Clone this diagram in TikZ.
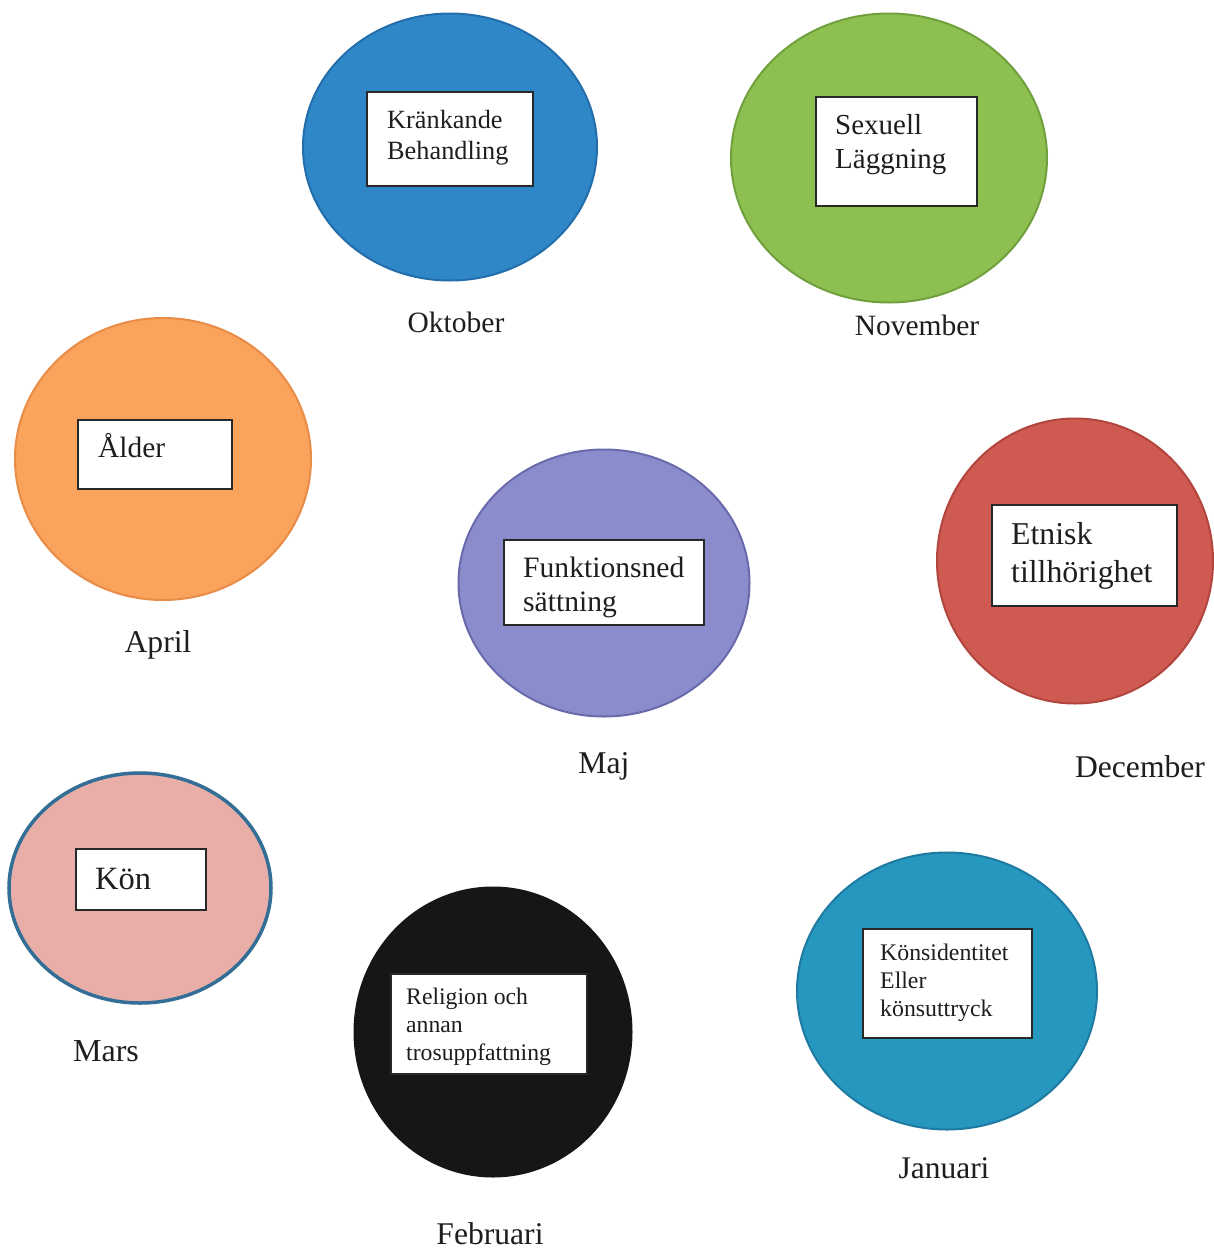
\documentclass[tikz,border=0pt]{standalone}
\usepackage{fontspec}
\setmainfont{Liberation Serif}
\usetikzlibrary{shapes.geometric}
\definecolor{cblue}{RGB}{47,135,200}
\definecolor{cbluebd}{RGB}{35,110,170}
\definecolor{cgreen}{RGB}{141,192,80}
\definecolor{cgreenbd}{RGB}{112,160,62}
\definecolor{corange}{RGB}{250,163,92}
\definecolor{corangebd}{RGB}{232,140,72}
\definecolor{cpurple}{RGB}{138,140,204}
\definecolor{cpurplebd}{RGB}{104,106,172}
\definecolor{cred}{RGB}{207,90,82}
\definecolor{credbd}{RGB}{178,70,62}
\definecolor{cpink}{RGB}{233,174,168}
\definecolor{cpinkbd}{RGB}{50,110,150}
\definecolor{cblack}{RGB}{22,22,22}
\definecolor{cteal}{RGB}{38,152,192}
\definecolor{ctealbd}{RGB}{30,122,160}
\definecolor{boxbd}{RGB}{40,40,40}
\definecolor{txt}{RGB}{30,30,30}
\tikzset{
  blob/.style={ellipse, inner sep=0pt, line width=2pt},
  labelbox/.style={rectangle, fill=white, draw=boxbd, line width=1.5pt, inner sep=0pt, anchor=north west},
  boxtext/.style={anchor=base west, inner sep=0pt, align=left, text=txt},
  month/.style={anchor=base, inner sep=0pt, text=txt},
}
\newcommand{\fsz}[2]{\fontsize{#1}{#2}\selectfont}
\begin{document}
\begin{tikzpicture}[x=1pt,y=-1pt]
\useasboundingbox[fill=white] (0,0) rectangle (1214,1250);

% Oktober
\node[blob, fill=cblue, draw=cbluebd, minimum width=294pt, minimum height=267pt] (c1) at (450,147) {};
\node[labelbox, minimum width=166pt, minimum height=94pt] (b1) at (366,91) {};
\node[boxtext, font=\fsz{26.3}{31}] (t1) at (387,159) {Kränkande\\Behandling};
\node[month, font=\fsz{29.5}{32}] (m1) at (456,332) {Oktober};

% November
\node[blob, fill=cgreen, draw=cgreenbd, minimum width=316pt, minimum height=289pt] (c2) at (889,158) {};
\node[labelbox, minimum width=161pt, minimum height=109pt] (b2) at (815,96) {};
\node[boxtext, font=\fsz{29}{34}] (t2) at (835,168) {Sexuell\\Läggning};
\node[month, font=\fsz{29.5}{32}] (m2) at (917,335) {November};

% April
\node[blob, fill=corange, draw=corangebd, minimum width=296pt, minimum height=282pt] (c3) at (163,459) {};
\node[labelbox, minimum width=154pt, minimum height=69pt] (b3) at (77,419) {};
\node[boxtext, font=\fsz{29.4}{34}] (t3) at (98,457) {Ålder};
\node[month, font=\fsz{31.7}{34}] (m3) at (158,652) {April};

% Maj
\node[blob, fill=cpurple, draw=cpurplebd, minimum width=291pt, minimum height=267pt] (c4) at (604,583) {};
\node[labelbox, minimum width=200pt, minimum height=85pt] (b4) at (503,539) {};
\node[boxtext, font=\fsz{29.6}{34}] (t4) at (523,611) {Funktionsned\\sättning};
\node[month, font=\fsz{31.7}{34}] (m4) at (604,773) {Maj};

% December
\node[blob, fill=cred, draw=credbd, minimum width=276pt, minimum height=285pt] (c5) at (1075,561) {};
\node[labelbox, minimum width=185pt, minimum height=101pt] (b5) at (991,504) {};
\node[boxtext, font=\fsz{31.8}{38}] (t5) at (1011,582) {Etnisk\\tillhörighet};
\node[month, font=\fsz{31.6}{34}] (m5) at (1140,777) {December};

% Mars
\node[blob, fill=cpink, draw=cpinkbd, line width=3.5pt, minimum width=262pt, minimum height=230pt] (c6) at (140,888) {};
\node[labelbox, minimum width=130pt, minimum height=61pt] (b6) at (75,848) {};
\node[boxtext, font=\fsz{32.5}{36}] (t6) at (95,889) {Kön};
\node[month, font=\fsz{32}{34}] (m6) at (106,1061) {Mars};

% Februari
\node[blob, fill=cblack, draw=cblack, minimum width=277pt, minimum height=289pt] (c7) at (493,1032) {};
\node[labelbox, minimum width=196pt, minimum height=100pt] (b7) at (390,973) {};
\node[boxtext, font=\fsz{23.7}{28}] (t7) at (406,1060) {Religion och\\annan\\trosuppfattning};
\node[month, font=\fsz{31.6}{34}] (m7) at (490,1244) {Februari};

% Januari
\node[blob, fill=cteal, draw=ctealbd, minimum width=300pt, minimum height=277pt] (c8) at (947,991) {};
\node[labelbox, minimum width=169pt, minimum height=109pt] (b8) at (862,928) {};
\node[boxtext, font=\fsz{23.8}{28}] (t8) at (880,1016) {Könsidentitet\\Eller\\könsuttryck};
\node[month, font=\fsz{31.5}{34}] (m8) at (944,1178) {Januari};
\end{tikzpicture}
\end{document}
